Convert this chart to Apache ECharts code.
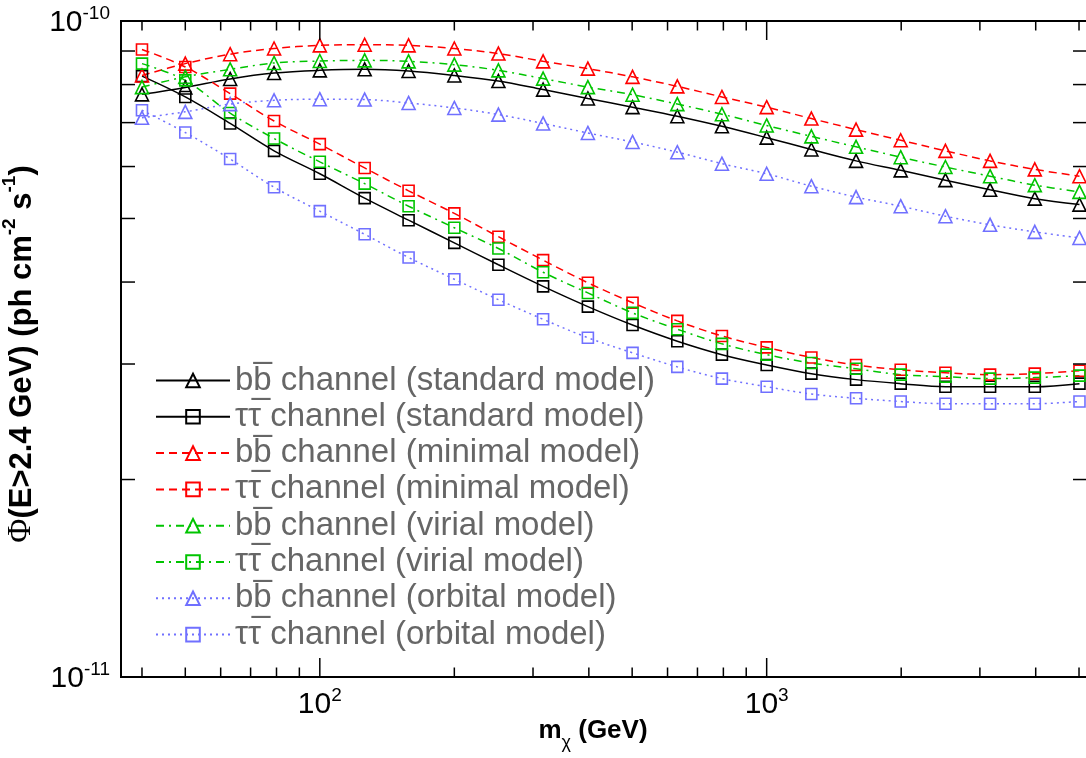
<!DOCTYPE html>
<html>
<head>
<meta charset="utf-8">
<script src="https://cdn.jsdelivr.net/npm/echarts@6/dist/echarts.min.js"></script>
<style>
html,body{margin:0;padding:0;background:#fff;}
#chart{width:1086px;height:758px;}
</style>
</head>
<body>
<div id="chart"></div>
<script>
// Dark-matter mass (GeV)
const MASS = [40, 50, 63, 79, 100, 126, 158, 200, 251, 316, 398, 501, 631, 794, 1000, 1259, 1585, 1995, 2512, 3162, 3981, 5012];
// Flux values, in units of 1e-11 ph cm^-2 s^-1
const UNIT = 1e-11;
const bbStandard   = [7.73, 7.92, 8.16, 8.33, 8.41, 8.44, 8.39, 8.26, 8.10, 7.86, 7.62, 7.39, 7.16, 6.91, 6.64, 6.37, 6.12, 5.92, 5.72, 5.53, 5.36, 5.25];
const ttStandard   = [8.24, 7.66, 6.98, 6.34, 5.85, 5.37, 4.97, 4.59, 4.25, 3.94, 3.67, 3.44, 3.25, 3.10, 2.99, 2.90, 2.84, 2.80, 2.77, 2.77, 2.77, 2.80];
const bbMinimal    = [8.26, 8.61, 8.90, 9.08, 9.18, 9.20, 9.18, 9.08, 8.92, 8.68, 8.46, 8.22, 7.95, 7.66, 7.39, 7.10, 6.83, 6.58, 6.34, 6.12, 5.94, 5.80];
const ttMinimal    = [9.05, 8.51, 7.75, 7.04, 6.49, 5.97, 5.51, 5.09, 4.69, 4.32, 3.99, 3.72, 3.49, 3.31, 3.18, 3.07, 2.99, 2.94, 2.91, 2.89, 2.90, 2.93];
const bbVirial     = [7.93, 8.22, 8.44, 8.63, 8.69, 8.71, 8.68, 8.58, 8.41, 8.17, 7.93, 7.72, 7.47, 7.21, 6.93, 6.67, 6.43, 6.20, 5.99, 5.80, 5.62, 5.49];
const ttVirial     = [8.61, 8.12, 7.24, 6.62, 6.10, 5.65, 5.22, 4.84, 4.50, 4.14, 3.85, 3.59, 3.39, 3.22, 3.10, 3.01, 2.95, 2.89, 2.87, 2.85, 2.86, 2.88];
const bbOrbital    = [7.12, 7.27, 7.47, 7.57, 7.60, 7.59, 7.50, 7.37, 7.20, 6.98, 6.75, 6.54, 6.31, 6.06, 5.85, 5.60, 5.39, 5.22, 5.04, 4.89, 4.77, 4.67];
const ttOrbital    = [7.31, 6.76, 6.16, 5.58, 5.13, 4.73, 4.36, 4.04, 3.76, 3.51, 3.29, 3.12, 2.97, 2.85, 2.77, 2.70, 2.66, 2.63, 2.61, 2.61, 2.61, 2.63];

const seriesNames = [
  'bb\u0305 channel (standard model)',
  '\u03c4\u03c4\u0305 channel (standard model)',
  'bb\u0305 channel (minimal model)',
  '\u03c4\u03c4\u0305 channel (minimal model)',
  'bb\u0305 channel (virial model)',
  '\u03c4\u03c4\u0305 channel (virial model)',
  'bb\u0305 channel (orbital model)',
  '\u03c4\u03c4\u0305 channel (orbital model)'
];

// axis ranges and tick values
const X_MIN = 35.9, X_MAX = 5210;
const Y_MIN = 1, Y_MAX = 10;   // units of 1e-11
const xMinorTicks = [40, 50, 60, 70, 80, 90, 200, 300, 400, 500, 600, 700, 800, 900, 2000, 3000, 4000, 5000];
const xMajorTicks = [100, 1000];
const yMinorTicks = [2, 3, 4, 5, 6, 7, 8, 9];

const BLACK = '#000000', RED = '#ff0000', GREEN = '#00c400', BLUE = '#7070ff';

function lineSeries(name, vals, color, dash, symbol) {
  return {
    type: 'line', name: name,
    data: MASS.map((m, i) => [m, vals[i]]),
    symbol: symbol,
    symbolSize: symbol === 'triangle' ? 13 : 11,
    showSymbol: true,
    smooth: 0.35,
    lineStyle: { color: color, width: 1.5, type: dash },
    itemStyle: { color: 'rgba(255,255,255,0)', borderColor: color, borderWidth: 1.6 },
    emphasis: { disabled: true },
    animation: false,
    z: 3
  };
}

const series = [
  lineSeries(seriesNames[0], bbStandard, BLACK, 'solid', 'triangle'),
  lineSeries(seriesNames[1], ttStandard, BLACK, 'solid', 'rect'),
  lineSeries(seriesNames[2], bbMinimal, RED, [8, 5], 'triangle'),
  lineSeries(seriesNames[3], ttMinimal, RED, [8, 5], 'rect'),
  lineSeries(seriesNames[4], bbVirial, GREEN, [8, 5, 2, 5], 'triangle'),
  lineSeries(seriesNames[5], ttVirial, GREEN, [8, 5, 2, 5], 'rect'),
  lineSeries(seriesNames[6], bbOrbital, BLUE, [2, 4], 'triangle'),
  lineSeries(seriesNames[7], ttOrbital, BLUE, [2, 4], 'rect')
];

// tick marks drawn through the axis scales
series.push({
  type: 'custom', silent: true, animation: false, z: 5,
  data: xMinorTicks.map(v => [v, 9.5]).concat(xMajorTicks.map(v => [v, 19])),
  encode: { x: 0 },
  renderItem: function (params, api) {
    const v = api.value(0), len = api.value(1);
    const b = api.coord([v, Y_MIN]), t = api.coord([v, Y_MAX]);
    const st = { stroke: '#000', lineWidth: 1.5 };
    return { type: 'group', children: [
      { type: 'line', shape: { x1: b[0], y1: b[1], x2: b[0], y2: b[1] - len }, style: st },
      { type: 'line', shape: { x1: t[0], y1: t[1], x2: t[0], y2: t[1] + len }, style: st }
    ]};
  }
});
series.push({
  type: 'custom', silent: true, animation: false, z: 5,
  data: yMinorTicks.map(v => [X_MIN, v, 14]),
  encode: { x: 0, y: 1 },
  renderItem: function (params, api) {
    const v = api.value(1), len = api.value(2);
    const l = api.coord([X_MIN, v]), r = api.coord([X_MAX, v]);
    const st = { stroke: '#000', lineWidth: 1.5 };
    return { type: 'group', children: [
      { type: 'line', shape: { x1: l[0], y1: l[1], x2: l[0] + len, y2: l[1] }, style: st },
      { type: 'line', shape: { x1: r[0], y1: r[1], x2: r[0] - len, y2: r[1] }, style: st }
    ]};
  }
});

const chart = echarts.init(document.getElementById('chart'), null, { renderer: 'canvas' });
chart.setOption({
  backgroundColor: '#ffffff',
  animation: false,
  grid: {
    left: 121, top: 21, width: 966, height: 656,
    show: true, borderColor: '#000', borderWidth: 2,
    containLabel: false, outerBoundsMode: 'none'
  },
  legend: {
    orient: 'vertical', left: 155, top: 364, padding: 0,
    itemWidth: 74, itemHeight: 17, itemGap: 3.3,
    data: seriesNames,
    textStyle: { color: '#666666', fontSize: 33, fontFamily: 'Liberation Sans', lineHeight: 33 },
    selectedMode: false
  },
  xAxis: {
    type: 'log', logBase: 10, min: X_MIN, max: X_MAX,
    axisLine: { show: true, lineStyle: { color: '#000', width: 2 } },
    axisTick: { show: false },
    splitLine: { show: false },
    minorTick: { show: false },
    axisLabel: {
      margin: 9, showMinLabel: false, showMaxLabel: false,
      formatter: function (v) {
        const e = Math.round(Math.log10(v));
        if (Math.abs(Math.log10(v) - e) > 1e-6) return '';
        return '{b|10}{s|' + e + '}';
      },
      rich: {
        b: { fontSize: 30, fontFamily: 'Liberation Sans', color: '#000', lineHeight: 34, verticalAlign: 'bottom' },
        s: { fontSize: 19, fontFamily: 'Liberation Sans', color: '#000', lineHeight: 34, verticalAlign: 'top' }
      }
    },
    name: '{b|m}{sub|\u03c7}{b| (GeV)}',
    nameLocation: 'middle', nameGap: 41, nameMoveOverlap: false,
    nameTextStyle: {
      padding: [0, 22, 0, 0],
      rich: {
        b: { fontSize: 26, fontWeight: 'bold', fontFamily: 'Liberation Sans', color: '#000', lineHeight: 34, verticalAlign: 'top' },
        sub: { fontSize: 18, fontFamily: 'Liberation Sans', color: '#000', lineHeight: 34, verticalAlign: 'bottom' }
      }
    }
  },
  yAxis: {
    type: 'log', logBase: 10, min: Y_MIN, max: Y_MAX,
    axisLine: { show: true, lineStyle: { color: '#000', width: 2 } },
    axisTick: { show: false },
    splitLine: { show: false },
    minorTick: { show: false },
    axisLabel: {
      margin: 11,
      formatter: function (v) {
        const e = Math.round(Math.log10(v * UNIT));
        return '{b|10}{s|' + e + '}';
      },
      rich: {
        b: { fontSize: 30, fontFamily: 'Liberation Sans', color: '#000', lineHeight: 34, verticalAlign: 'bottom' },
        s: { fontSize: 19, fontFamily: 'Liberation Sans', color: '#000', lineHeight: 34, verticalAlign: 'top' }
      }
    },
    name: '{p|\u03a6}{b|(E>2.4 GeV) (ph cm}{s|-2}{b| s}{s|-1}{b|)}',
    nameLocation: 'middle', nameRotate: 90, nameGap: 76,
    nameTextStyle: {
      padding: [0, 10, 0, 0],
      rich: {
        p: { fontSize: 33, fontFamily: 'Liberation Serif', color: '#000', lineHeight: 38, verticalAlign: 'bottom' },
        b: { fontSize: 31, fontWeight: 'bold', fontFamily: 'Liberation Sans', color: '#000', lineHeight: 38, verticalAlign: 'bottom' },
        s: { fontSize: 19, fontWeight: 'bold', fontFamily: 'Liberation Sans', color: '#000', lineHeight: 38, verticalAlign: 'top' }
      }
    }
  },
  series: series
});
</script>
</body>
</html>
